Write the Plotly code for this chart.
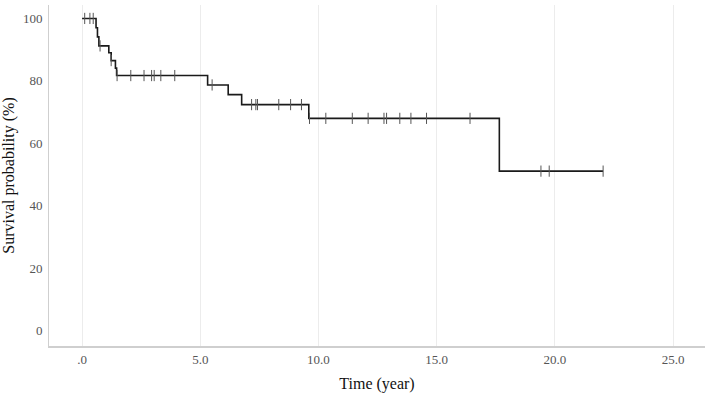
import plotly.graph_objects as go

# Kaplan-Meier step data
step_times = [0, 0.59, 0.65, 0.71, 1.13, 1.23, 1.41, 1.46, 5.31, 6.18, 6.75, 9.59, 17.65, 22.04]
step_surv = [100, 97.0, 94.1, 91.2, 89.0, 86.5, 84.1, 81.7, 78.7, 75.6, 72.4, 68.0, 51.1, 51.1]

# censored observations
censor_times = [0.11, 0.33, 0.47, 0.76, 1.23, 1.48, 2.06, 2.62, 2.94, 3.05, 3.33, 3.92,
                5.50, 7.17, 7.35, 7.42, 8.32, 8.82, 9.28, 9.62, 10.31, 11.43, 12.10,
                12.77, 12.88, 13.44, 13.91, 14.57, 16.41, 19.41, 19.76, 22.04]
censor_surv = [100, 100, 100, 91.2, 86.5, 81.7, 81.7, 81.7, 81.7, 81.7, 81.7, 81.7,
               78.7, 72.4, 72.4, 72.4, 72.4, 72.4, 72.4, 68.0, 68.0, 68.0, 68.0,
               68.0, 68.0, 68.0, 68.0, 68.0, 68.0, 51.1, 51.1, 51.1]

x_ticks = [0, 5, 10, 15, 20, 25]
x_tick_labels = [".0", "5.0", "10.0", "15.0", "20.0", "25.0"]
y_ticks = [0, 20, 40, 60, 80, 100]

fig = go.Figure()
fig.add_trace(go.Scatter(
    x=step_times, y=step_surv, mode="lines",
    line=dict(shape="hv", color="#1a1a1a", width=1.6),
    hoverinfo="skip", showlegend=False))
fig.add_trace(go.Scatter(
    x=censor_times, y=censor_surv, mode="markers",
    marker=dict(symbol="line-ns", size=8, line=dict(width=1, color="#555555")),
    showlegend=False))

font_family = "Liberation Serif, serif"
fig.update_layout(
    width=708, height=395,
    margin=dict(l=49, r=3, t=5, b=49),
    plot_bgcolor="white", paper_bgcolor="white",
    font=dict(family=font_family, size=13, color="#333333"),
    xaxis=dict(
        range=[-1.40, 26.35], tickvals=x_ticks, ticktext=x_tick_labels,
        showgrid=True, gridcolor="#ececec", gridwidth=1, zeroline=False,
        showline=True, linecolor="#cfcfcf", linewidth=2,
        ticks="", tickfont=dict(size=13, family=font_family, color="#555555"),
        title=dict(text="Time (year)", font=dict(size=16, family=font_family, color="#111111"), standoff=12),
    ),
    yaxis=dict(
        range=[-4.9, 104.3], tickvals=y_ticks,
        showgrid=False, zeroline=False,
        showline=True, linecolor="#cfcfcf", linewidth=1,
        ticks="outside", ticklen=3, tickcolor="rgba(0,0,0,0)",
        tickfont=dict(size=13, family=font_family, color="#555555"),
        title=dict(text="Survival probability (%)", font=dict(size=16, family=font_family, color="#111111"), standoff=10),
    ),
)

fig.write_html("out.html", config={"displayModeBar": False},
               post_script="document.body.style.margin='0';")
